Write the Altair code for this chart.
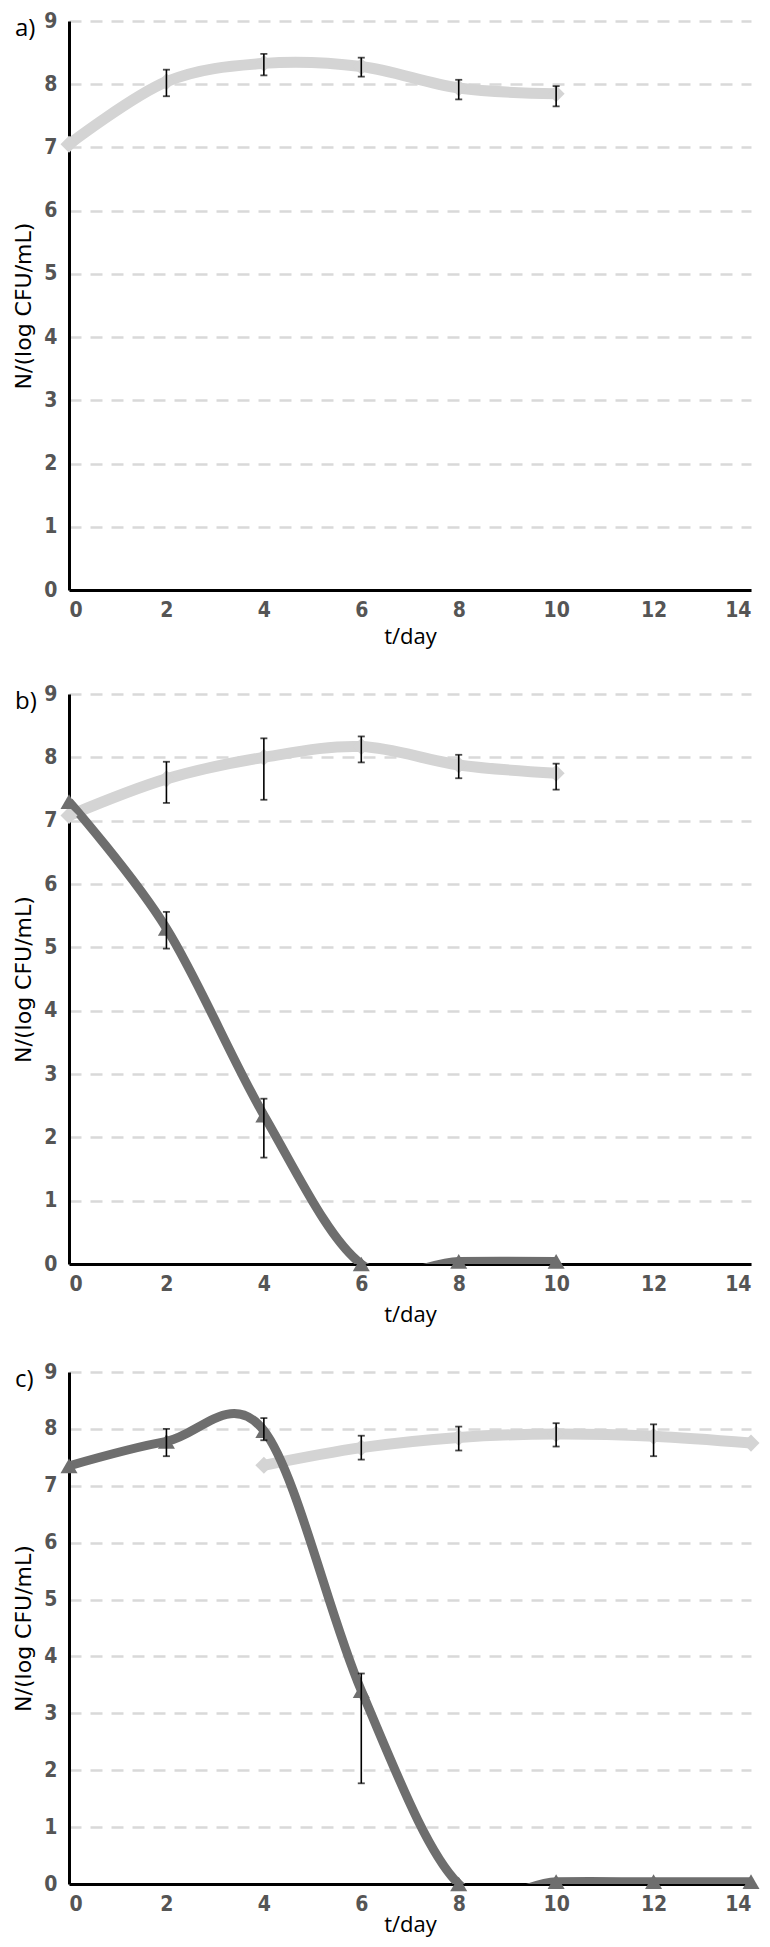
import altair as alt
import pandas as pd

# ---------------- data ----------------
days_a = [0, 2, 4, 6, 8, 10]
a_light = [7.05, 8.04, 8.33, 8.28, 7.94, 7.85]
a_light_lo = [None, 7.81, 8.14, 8.12, 7.76, 7.65]
a_light_hi = [None, 8.23, 8.48, 8.42, 8.07, 7.97]

days_b = [0, 2, 4, 6, 8, 10]
b_light = [7.08, 7.66, 8.00, 8.17, 7.88, 7.75]
b_light_lo = [None, 7.28, 7.33, 7.92, 7.67, 7.49]
b_light_hi = [None, 7.93, 8.30, 8.33, 8.04, 7.90]
b_dark = [7.30, 5.30, 2.35, 0.00, 0.04, 0.04]
b_dark_lo = [None, 4.98, 1.68, None, None, None]
b_dark_hi = [None, 5.56, 2.61, None, None, None]

days_c = [0, 2, 4, 6, 8, 10, 12, 14]
c_light = [None, None, 7.36, 7.67, 7.85, 7.91, 7.87, 7.75]
c_light_lo = [None, None, None, 7.46, 7.62, 7.69, 7.52, None]
c_light_hi = [None, None, None, 7.88, 8.04, 8.10, 8.08, None]
c_dark = [7.35, 7.78, 7.97, 3.40, 0.00, 0.04, 0.04, 0.04]
c_dark_lo = [None, 7.52, 7.80, 1.77, None, None, None, None]
c_dark_hi = [None, 8.00, 8.19, 3.70, None, None, None, None]

x_ticks = [0, 2, 4, 6, 8, 10, 12, 14]
y_ticks = [0, 1, 2, 3, 4, 5, 6, 7, 8, 9]
series_names = ["light", "dark"]
series_colors = ["#d4d4d4", "#6e6e6e"]
series_shapes = ["diamond", "triangle-up"]
series_widths = [11, 9]

LABEL_FONT = "Liberation Sans Narrow, DejaVu Sans Condensed, sans-serif"
PLOT_W = 682


def frame(days, series, vals, lo, hi):
    rows = []
    for d, v, l, h in zip(days, vals, lo, hi):
        if v is None:
            continue
        rows.append({"t": d, "N": v, "series": series, "lo": l, "hi": h})
    return rows


def panel(rows, label, height, x_title_pad, x_label_pad):
    df = pd.DataFrame(rows)
    base = alt.Chart(df)
    x = alt.X("t:Q", scale=alt.Scale(domain=[0, 14], nice=False),
              axis=alt.Axis(values=x_ticks, format="d", title="t/day", grid=False,
                            titlePadding=x_title_pad, labelPadding=x_label_pad,
                            titleFont="Open Sans", titleFontSize=22,
                            titleFontWeight="normal", titleColor="#000000"))
    y = alt.Y("N:Q", scale=alt.Scale(domain=[0, 9], nice=False),
              axis=alt.Axis(values=y_ticks, format="d", title="N/(log CFU/mL)", grid=True,
                            gridDash=[12, 9], gridColor="#d9d9d9", gridWidth=2.5,
                            titleFont="DejaVu Sans", titleFontSize=22,
                            titleFontWeight="normal", titleColor="#000000",
                            titlePadding=8, labelPadding=12))
    color = alt.Color("series:N", scale=alt.Scale(domain=series_names, range=series_colors), legend=None)
    shape = alt.Shape("series:N", scale=alt.Scale(domain=series_names, range=series_shapes), legend=None)
    width = alt.Size("series:N", scale=alt.Scale(domain=series_names, range=series_widths), legend=None)

    layers = []
    for s in series_names:
        if any(r["series"] == s for r in rows):
            layers.append(
                base.transform_filter(alt.datum.series == s)
                .mark_line(interpolate="cardinal", clip=True)
                .encode(x=x, y=y, color=color, size=width, order=alt.Order("t:Q"))
            )
    pts = base.mark_point(filled=True, size=290, opacity=1).encode(
        x=x, y=y, color=color, shape=shape)
    eb = base.transform_filter("isValid(datum.lo)")
    rules = eb.mark_rule(color="#000000", strokeWidth=1.6).encode(
        x="t:Q", y="lo:Q", y2="hi:Q")
    tick_lo = eb.mark_tick(color="#000000", orient="horizontal", size=7, thickness=1.8).encode(
        x="t:Q", y="lo:Q")
    tick_hi = eb.mark_tick(color="#000000", orient="horizontal", size=7, thickness=1.8).encode(
        x="t:Q", y="hi:Q")
    txt = alt.Chart(pd.DataFrame({"lab": [label]})).mark_text(
        align="left", baseline="middle", font="Open Sans", fontSize=24, color="#000000"
    ).encode(x=alt.value(-54), y=alt.value(8), text="lab:N")

    return alt.layer(*layers, pts, rules, tick_lo, tick_hi, txt).properties(width=PLOT_W, height=height)


rows_a = frame(days_a, "light", a_light, a_light_lo, a_light_hi)
rows_b = frame(days_b, "light", b_light, b_light_lo, b_light_hi) + \
    frame(days_b, "dark", b_dark, b_dark_lo, b_dark_hi)
rows_c = frame(days_c, "light", c_light, c_light_lo, c_light_hi) + \
    frame(days_c, "dark", c_dark, c_dark_lo, c_dark_hi)

pa = panel(rows_a, "a)", 569, 6, 9)
pb = panel(rows_b, "b)", 570, 10, 9)
pc = panel(rows_c, "c)", 512, 0, 9)

chart = alt.vconcat(pa, pb, pc, spacing=36).properties(
    padding={"left": 4, "top": 2, "right": 0, "bottom": 3}
).configure_axis(
    domainColor="#000000", domainWidth=3, ticks=False,
    labelFont=LABEL_FONT, labelFontWeight="bold", labelColor="#555555", labelFontSize=21,
).configure_view(stroke=None)

chart.save("out.html", embed_options={"renderer": "svg", "actions": False})
